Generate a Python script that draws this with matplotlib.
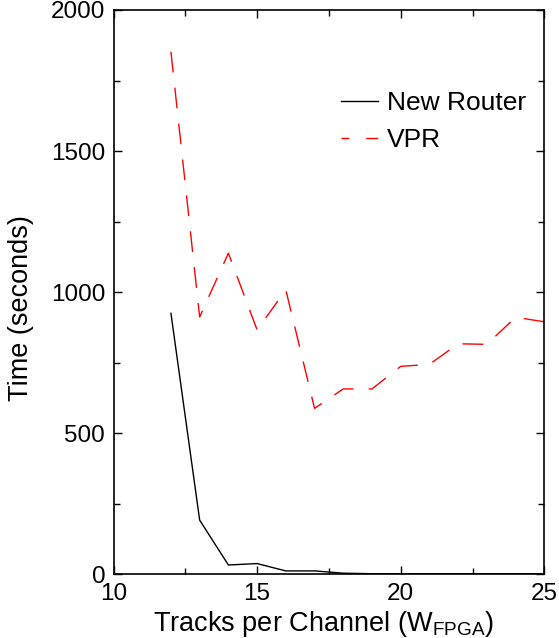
import matplotlib
matplotlib.use("Agg")
import matplotlib.pyplot as plt
from matplotlib.lines import Line2D
from matplotlib.ticker import MultipleLocator

plt.rcParams['font.family'] = ['Liberation Sans', 'DejaVu Sans']
plt.rcParams['mathtext.fontset'] = 'custom'
plt.rcParams['mathtext.rm'] = 'Liberation Sans'
plt.rcParams['mathtext.it'] = 'Liberation Sans'

tracks = [12, 13, 14, 15, 16, 17, 18, 19, 20, 21, 22, 23, 24, 25]
new_router = [925, 192, 33, 38, 12, 12, 4, 2, 2, 2, 2, 2, 2, 2]
vpr = [1852, 912, 1138, 866, 1008, 588, 657, 657, 737, 744, 817, 815, 911, 895]
series_labels = ['New Router', 'VPR']

fig = plt.figure(figsize=(5.59, 6.38), dpi=100)
ax = fig.add_axes([113.5/559, 1-574.3/638, (544.3-113.5)/559, (574.3-10)/638])

ax.plot(tracks, new_router, color='black', lw=1.0)
ax.plot(tracks, vpr, color='#ff0000', lw=1.0, dashes=(15, 11))

ax.set_xlim(10, 25)
ax.set_ylim(0, 2000)
ax.xaxis.set_major_locator(MultipleLocator(5))
ax.xaxis.set_minor_locator(MultipleLocator(2.5))
ax.yaxis.set_major_locator(MultipleLocator(500))
ax.yaxis.set_minor_locator(MultipleLocator(250))
ax.tick_params(which='both', direction='in', top=True, right=True, labelsize=17.5, width=1.0)
ax.tick_params(which='major', length=6, pad=6)
ax.tick_params(which='minor', length=4)
for s in ax.spines.values():
    s.set_linewidth(1.2)

ax.set_xlabel('Tracks per Channel (W$_{\\mathrm{FPGA}}$)', fontsize=19.5, va='top')
ax.xaxis.set_label_coords(0.4875, -0.062)
ax.set_ylabel('Time (seconds)', fontsize=19.5, va='center')
ax.yaxis.set_label_coords(-0.2136, 0.472)

handles = [Line2D([], [], color='black', lw=1.0),
           Line2D([], [], color='#ff0000', lw=1.0, linestyle=(3, (8.6, 12.2)))]
ax.legend(handles, series_labels, loc='upper left',
          bbox_to_anchor=(341/559, 1-91/638), bbox_transform=fig.transFigure,
          frameon=False, fontsize=19, handlelength=1.4, handletextpad=0.33,
          labelspacing=0.51, borderpad=0, borderaxespad=0)

fig.savefig('out.png', dpi=100)
